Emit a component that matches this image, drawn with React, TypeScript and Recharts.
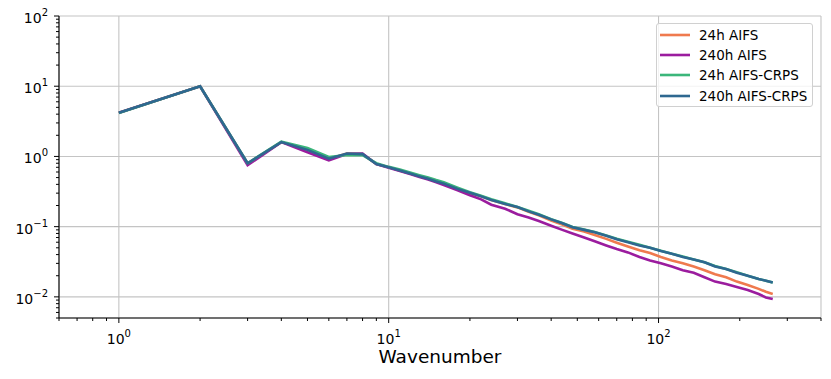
import {LineChart, Line, XAxis, YAxis, CartesianGrid} from 'recharts'

const wavenumbers = [1, 2, 3, 4, 5, 6, 7, 8, 9, 10, 11, 12, 13, 14, 15, 16, 18, 20, 22, 24, 27, 30, 33, 36, 40, 44, 48, 53, 58, 64, 70, 77, 85, 93, 102, 112, 123, 135, 148, 162, 178, 195, 214, 235, 250, 265]

const aifs24h = [4.2, 10, 0.79, 1.6, 1.25, 0.92, 1.1, 1.08, 0.78, 0.7, 0.63, 0.57, 0.52, 0.48, 0.44, 0.41, 0.345, 0.3, 0.27, 0.24, 0.21, 0.188, 0.163, 0.145, 0.122, 0.107, 0.093, 0.085, 0.076, 0.067, 0.059, 0.052, 0.046, 0.042, 0.037, 0.033, 0.03, 0.027, 0.024, 0.021, 0.019, 0.0165, 0.0148, 0.013, 0.0118, 0.011]
const aifs240h = [4.2, 10, 0.75, 1.6, 1.15, 0.88, 1.08, 1.1, 0.78, 0.69, 0.62, 0.56, 0.51, 0.47, 0.43, 0.39, 0.33, 0.28, 0.245, 0.205, 0.18, 0.15, 0.135, 0.12, 0.103, 0.09, 0.08, 0.07, 0.062, 0.054, 0.048, 0.043, 0.037, 0.033, 0.03, 0.027, 0.024, 0.022, 0.019, 0.0165, 0.0152, 0.0138, 0.0125, 0.011, 0.0098, 0.0093]
const crps24h = [4.15, 10, 0.8, 1.62, 1.32, 0.98, 1.05, 1.04, 0.8, 0.71, 0.65, 0.59, 0.54, 0.5, 0.46, 0.43, 0.36, 0.31, 0.275, 0.245, 0.215, 0.19, 0.168, 0.15, 0.128, 0.113, 0.099, 0.091, 0.084, 0.075, 0.067, 0.061, 0.055, 0.05, 0.0455, 0.041, 0.0375, 0.034, 0.031, 0.0275, 0.025, 0.0225, 0.02, 0.018, 0.017, 0.016]
const crps240h = [4.2, 10, 0.8, 1.6, 1.24, 0.93, 1.1, 1.08, 0.78, 0.7, 0.63, 0.57, 0.52, 0.48, 0.44, 0.41, 0.345, 0.305, 0.27, 0.24, 0.21, 0.19, 0.165, 0.148, 0.127, 0.112, 0.098, 0.09, 0.083, 0.074, 0.066, 0.06, 0.054, 0.05, 0.045, 0.041, 0.037, 0.034, 0.031, 0.027, 0.025, 0.022, 0.02, 0.018, 0.017, 0.016]

const xMajor = [1, 10, 100]
const xMinor = [0.6, 0.7, 0.8, 0.9, 2, 3, 4, 5, 6, 7, 8, 9, 20, 30, 40, 50, 60, 70, 80, 90, 200, 300, 400]
const yMajor = [0.01, 0.1, 1, 10, 100]
const yMinor = [0.005, 0.006, 0.007, 0.008, 0.009, 0.02, 0.03, 0.04, 0.05, 0.06, 0.07, 0.08, 0.09, 0.2, 0.3, 0.4, 0.5, 0.6, 0.7, 0.8, 0.9, 2, 3, 4, 5, 6, 7, 8, 9, 20, 30, 40, 50, 60, 70, 80, 90]

const series = [
    {key: 'aifs24h', name: '24h AIFS', color: '#ef7a4e', values: aifs24h},
    {key: 'aifs240h', name: '240h AIFS', color: '#9b1c9e', values: aifs240h},
    {key: 'crps24h', name: '24h AIFS-CRPS', color: '#3bb67a', values: crps24h},
    {key: 'crps240h', name: '240h AIFS-CRPS', color: '#2e6890', values: crps240h},
]

const chartData = wavenumbers.map((k, i) => {
    const row: any = {k}
    series.forEach(s => { row[s.key] = s.values[i] })
    return row
})

const FONT = '"DejaVu Sans", sans-serif'

const exponent = (v: number) => {
    const e = Math.round(Math.log10(v))
    return e < 0 ? '\u2212' + Math.abs(e) : String(e)
}

const XTick = ({x, y, payload}: any) => {
    const v = payload.value
    const major = xMajor.includes(v)
    return (
        <g>
            <line x1={x} x2={x} y1={y} y2={y + (major ? 5 : 3)} stroke="#000" strokeWidth={1} />
            {major && (
                <text x={x} y={y + 26} textAnchor="middle" fontSize={14} fontFamily={FONT} fill="#000">
                    10<tspan fontSize={10} dy={-7}>{exponent(v)}</tspan>
                </text>
            )}
        </g>
    )
}

const YTick = ({x, y, payload}: any) => {
    const v = payload.value
    const major = yMajor.includes(v)
    return (
        <g>
            <line x1={x} x2={x - (major ? 5 : 3)} y1={y} y2={y} stroke="#000" strokeWidth={1} />
            {major && (
                <text x={x - 11} y={y + 7} textAnchor="end" fontSize={14} fontFamily={FONT} fill="#000">
                    10<tspan fontSize={10} dy={-7}>{exponent(v)}</tspan>
                </text>
            )}
        </g>
    )
}

const AxisTitle = ({viewBox}: any) => (
    <text x={viewBox.x + viewBox.width / 2} y={viewBox.y + 45} textAnchor="middle" fontSize={18.5} fontFamily={FONT} fill="#000">
        Wavenumber
    </text>
)

const LegendBox = () => (
    <div style={{
        position: 'absolute',
        left: 656,
        top: 23,
        width: 157,
        height: 84,
        boxSizing: 'border-box',
        background: 'rgba(255,255,255,0.8)',
        border: '1px solid #d0d0d0',
        borderRadius: 3,
        paddingTop: 1,
        fontFamily: FONT,
        fontSize: 13.5,
        color: '#000',
    }}>
        {series.map(s => (
            <div key={s.key} style={{display: 'flex', alignItems: 'center', height: 20.2}}>
                <svg width={42} height={20} style={{flex: 'none'}}>
                    <line x1={3} x2={33} y1={10} y2={10} stroke={s.color} strokeWidth={2.6} />
                </svg>
                <span style={{whiteSpace: 'nowrap'}}>{s.name}</span>
            </div>
        ))}
    </div>
)

export default function App() {
    return (
        <div style={{position: 'absolute', left: 0, top: 0, width: 831, height: 379, background: '#fff'}}>
            <LineChart width={831} height={379} data={chartData} margin={{top: 16, right: 10, left: 0, bottom: 0}}>
                <XAxis xAxisId="grid" dataKey="k" type="number" scale="log" domain={[0.6, 400]} ticks={xMajor} allowDataOverflow hide />
                <YAxis yAxisId="grid" type="number" scale="log" domain={[0.005, 100]} ticks={yMajor} allowDataOverflow hide />
                <CartesianGrid xAxisId="grid" yAxisId="grid" stroke="#c4c4c4" strokeWidth={1.1} />
                <XAxis
                    dataKey="k"
                    type="number"
                    scale="log"
                    domain={[0.6, 400]}
                    ticks={[...xMajor, ...xMinor]}
                    allowDataOverflow
                    interval={0}
                    height={61}
                    tickSize={0}
                    tickMargin={0}
                    tickLine={false}
                    tick={<XTick />}
                    axisLine={{stroke: '#000', strokeWidth: 1.1}}
                    label={<AxisTitle />}
                />
                <YAxis
                    type="number"
                    scale="log"
                    domain={[0.005, 100]}
                    ticks={[...yMajor, ...yMinor]}
                    allowDataOverflow
                    interval={0}
                    width={59}
                    tickSize={0}
                    tickMargin={0}
                    tickLine={false}
                    tick={<YTick />}
                    axisLine={{stroke: '#000', strokeWidth: 1.1}}
                />
                <XAxis xAxisId="top" orientation="top" dataKey="k" type="number" scale="log" domain={[0.6, 400]} allowDataOverflow height={0} tick={false} tickLine={false} axisLine={{stroke: '#000', strokeWidth: 1.1}} />
                <YAxis yAxisId="right" orientation="right" type="number" scale="log" domain={[0.005, 100]} allowDataOverflow width={0} tick={false} tickLine={false} axisLine={{stroke: '#000', strokeWidth: 1.1}} />
                {series.map(s => (
                    <Line
                        key={s.key}
                        dataKey={s.key}
                        name={s.name}
                        type="linear"
                        stroke={s.color}
                        strokeWidth={2.6}
                        dot={false}
                        isAnimationActive={false}
                    />
                ))}
            </LineChart>
            <LegendBox />
        </div>
    )
}
